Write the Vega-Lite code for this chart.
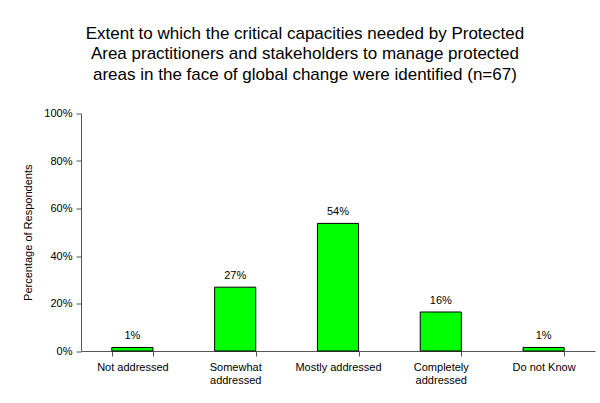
{
  "$schema": "https://vega.github.io/schema/vega-lite/v6.json",
  "autosize": "none",
  "width": 514,
  "height": 237.5,
  "padding": {"left": 81, "top": 113.5, "right": 5, "bottom": 52},
  "background": "white",
  "title": {
    "text": [
      "Extent to which the critical capacities needed by Protected",
      "Area practitioners and stakeholders to manage protected",
      "areas in the face of global change were identified (n=67)"
    ],
    "font": "Liberation Sans",
    "fontSize": 17,
    "fontWeight": "normal",
    "color": "black",
    "lineHeight": 20.5,
    "anchor": "middle",
    "frame": "bounds",
    "dx": -4,
    "offset": 24
  },
  "data": {
    "values": [
      {"category": "Not addressed", "value": 0.0149},
      {"category": "Somewhat addressed", "value": 0.2687},
      {"category": "Mostly addressed", "value": 0.5373},
      {"category": "Completely addressed", "value": 0.1642},
      {"category": "Do not Know", "value": 0.0149}
    ]
  },
  "encoding": {
    "x": {
      "field": "category",
      "type": "nominal",
      "sort": null,
      "scale": {"paddingInner": 0.6, "paddingOuter": 0.3},
      "axis": {
        "title": null,
        "labelAngle": 0,
        "tickBand": "extent",
        "labelExpr": "indexof(['Somewhat addressed','Completely addressed'], datum.label) >= 0 ? split(datum.label, ' ') : datum.label",
        "labelLineHeight": 13.5,
        "labelFont": "Liberation Sans",
        "labelFontSize": 11,
        "labelColor": "black",
        "labelPadding": 5,
        "tickSize": 5,
        "tickColor": "#555555",
        "domainColor": "#555555",
        "labelBaseline": "top"
      }
    },
    "y": {
      "field": "value",
      "type": "quantitative",
      "scale": {"domain": [0, 1]},
      "axis": {
        "title": "Percentage of Respondents",
        "titleFont": "Liberation Sans",
        "titleFontSize": 11,
        "titleFontWeight": "normal",
        "titleColor": "black",
        "titlePadding": 10,
        "format": ".0%",
        "values": [0, 0.2, 0.4, 0.6, 0.8, 1],
        "grid": false,
        "labelFont": "Liberation Sans",
        "labelFontSize": 11,
        "labelColor": "black",
        "labelPadding": 4,
        "tickSize": 5,
        "tickColor": "#555555",
        "domainColor": "#555555"
      }
    }
  },
  "layer": [
    {
      "mark": {"type": "bar", "fill": "#00ff00", "stroke": "black", "strokeWidth": 1}
    },
    {
      "mark": {"type": "text", "baseline": "alphabetic", "dy": -8, "font": "Liberation Sans", "fontSize": 11, "color": "black"},
      "encoding": {
        "text": {"field": "value", "type": "quantitative", "format": ".0%"}
      }
    }
  ],
  "config": {
    "view": {"stroke": null}
  }
}
